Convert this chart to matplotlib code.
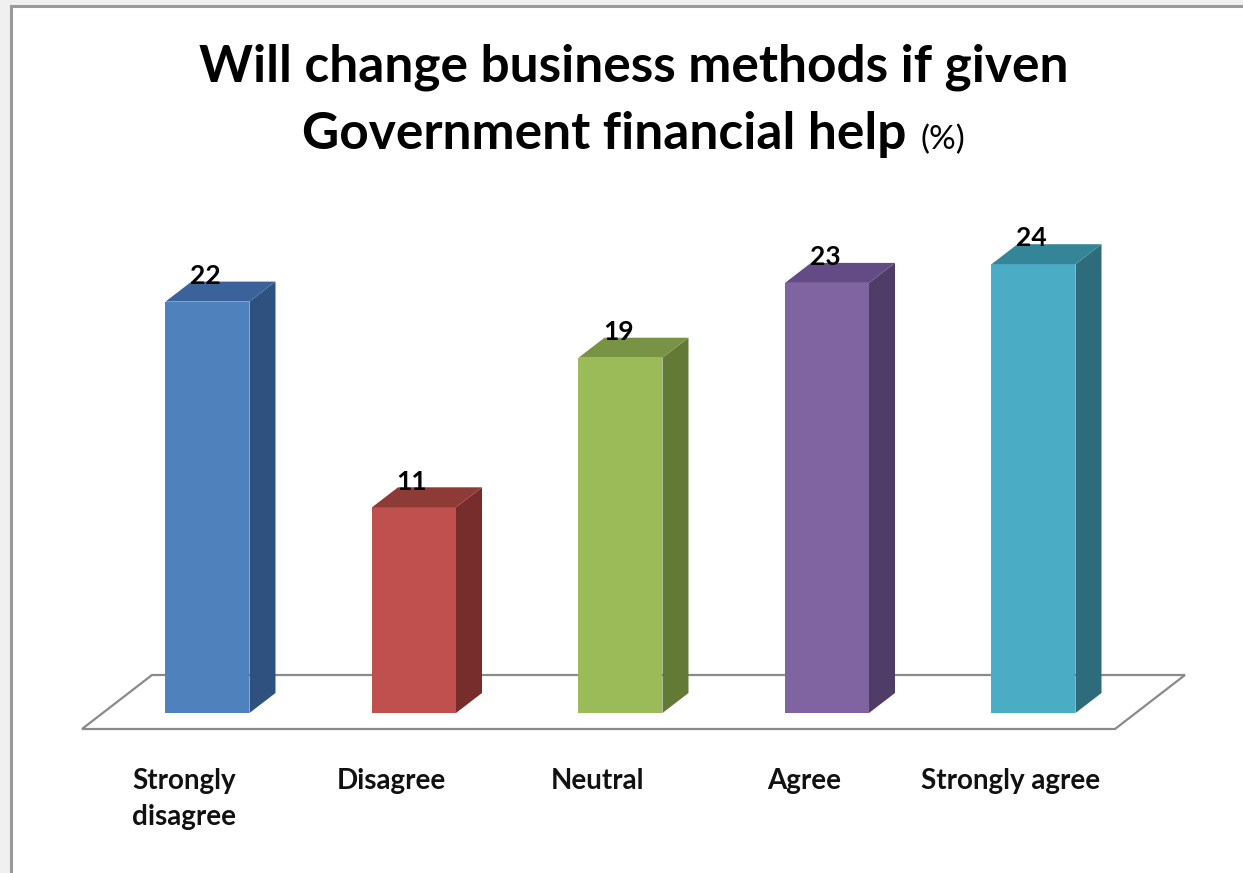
import matplotlib.pyplot as plt
from matplotlib.patches import Polygon
from matplotlib.lines import Line2D

plt.rcParams['font.family'] = ['Lato', 'DejaVu Sans']

categories = ['Strongly\ndisagree', 'Disagree', 'Neutral', 'Agree', 'Strongly agree']
values = [22, 11, 19, 23, 24]
front_colors = ['#4f81bd', '#c0504d', '#9bbb59', '#8064a2', '#4bacc6']
top_colors = ['#3b6399', '#8e3a37', '#789343', '#634c85', '#358598']
side_colors = ['#2f5180', '#762d2b', '#627a36', '#4f3d68', '#2e6b7b']

W, H = 1243, 873
fig = plt.figure(figsize=(W / 100, H / 100), dpi=100)
fig.patch.set_facecolor('white')

# pixel layout of the pseudo-3D plot area
base_px = 713        # front bottom edge of the bars
unit_px = 18.7       # pixels per percentage point
first_px = 207.5     # centre of the first bar front
step_px = 206.5      # distance between bars

ax = fig.add_axes([0, 0, 1, 1])
ax.set_xlim(-first_px / step_px, (W - first_px) / step_px)
ax.set_ylim((base_px - H) / unit_px, base_px / unit_px)
ax.axis('off')

bar_w = 84 / step_px
dx = 26 / step_px     # depth shift to the right
dy = 20 / unit_px     # depth shift upward

# floor
fx0, fx1 = (82 - first_px) / step_px, (1115 - first_px) / step_px
fy = (base_px - 729) / unit_px
fdx, fdy = 70 / step_px, 54 / unit_px
floor = Polygon([(fx0, fy), (fx1, fy), (fx1 + fdx, fy + fdy), (fx0 + fdx, fy + fdy)],
                closed=True, facecolor='white', edgecolor='#8a8a8a', lw=1.6, zorder=1)
ax.add_patch(floor)

for i, v in enumerate(values):
    left = i - bar_w / 2
    right = i + bar_w / 2
    ax.bar(i, v, width=bar_w, bottom=0, color=front_colors[i], linewidth=0, zorder=3)
    side = Polygon([(right, 0), (right + dx, dy), (right + dx, v + dy), (right, v)],
                   closed=True, facecolor=side_colors[i], edgecolor='none', zorder=3)
    top = Polygon([(left, v), (right, v), (right + dx, v + dy), (left + dx, v + dy)],
                  closed=True, facecolor=top_colors[i], edgecolor='none', zorder=3)
    ax.add_patch(side)
    ax.add_patch(top)
    ax.text(i - 0.01, v + dy - 0.12, str(v), ha='center', va='baseline',
            fontsize=19, fontweight='bold', color='black', zorder=4)
    ax.text(i - 23 / step_px, (base_px - 768) / unit_px, categories[i],
            ha='center', va='top', multialignment='center', linespacing=1.5,
            fontsize=20, fontweight='bold', color='#111111')

# title
fig.text(634 / W, 1 - 67 / H, 'Will change business methods if given',
         ha='center', va='center', fontsize=37, fontweight='bold')
fig.text(906 / W, 1 - 135 / H, 'Government financial help',
         ha='right', va='center', fontsize=37, fontweight='bold')
fig.text(920 / W, 1 - 140 / H, '(%)', ha='left', va='center', fontsize=24)

# window frame at the top and left edge
fig.add_artist(Line2D([0, 0], [0, 1], transform=fig.transFigure, color='#f0f0f0', lw=14))
fig.add_artist(Line2D([0, 1], [1, 1], transform=fig.transFigure, color='#f0f0f0', lw=9))
fig.add_artist(Line2D([11 / W, 11 / W], [0, 1 - 6 / H], transform=fig.transFigure,
                      color='#9a9a9a', lw=2.2))
fig.add_artist(Line2D([11 / W, 1], [1 - 6 / H, 1 - 6 / H], transform=fig.transFigure,
                      color='#9a9a9a', lw=2.2))

fig.savefig('out.png', dpi=100)
